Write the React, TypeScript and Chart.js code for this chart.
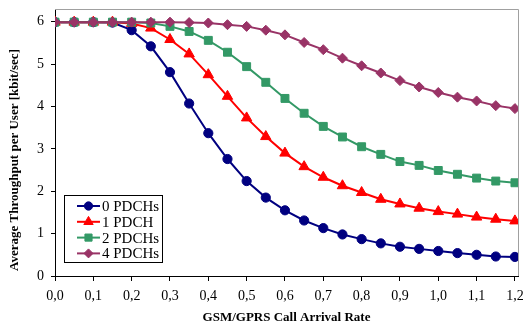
import React, { useEffect, useRef } from "react";
import { Chart, registerables } from "chart.js";
import { drawPoint } from "chart.js/helpers";

Chart.register(...registerables);

const arrivalRate = [0.0, 0.05, 0.1, 0.15, 0.2, 0.25, 0.3, 0.35, 0.4, 0.45, 0.5, 0.55, 0.6, 0.65, 0.7, 0.75, 0.8, 0.85, 0.9, 0.95, 1.0, 1.05, 1.1, 1.15, 1.2];
const pdch0 = [5.99, 5.99, 5.99, 5.98, 5.8, 5.42, 4.81, 4.07, 3.37, 2.76, 2.24, 1.85, 1.55, 1.31, 1.13, 0.98, 0.87, 0.77, 0.69, 0.64, 0.59, 0.54, 0.5, 0.46, 0.45];
const pdch1 = [5.99, 5.99, 5.99, 5.99, 5.96, 5.85, 5.58, 5.24, 4.75, 4.24, 3.73, 3.29, 2.9, 2.58, 2.33, 2.13, 1.97, 1.81, 1.7, 1.6, 1.52, 1.46, 1.39, 1.34, 1.3];
const pdch2 = [5.99, 5.99, 5.99, 5.99, 5.99, 5.97, 5.89, 5.77, 5.56, 5.28, 4.94, 4.57, 4.19, 3.84, 3.53, 3.28, 3.05, 2.87, 2.7, 2.61, 2.49, 2.4, 2.31, 2.24, 2.2];
const pdch4 = [5.99, 5.99, 5.99, 5.99, 5.99, 5.99, 5.99, 5.98, 5.97, 5.93, 5.89, 5.8, 5.69, 5.51, 5.34, 5.14, 4.96, 4.79, 4.61, 4.46, 4.33, 4.22, 4.13, 4.02, 3.95];
const seriesLabels = ["0 PDCHs", "1 PDCH", "2 PDCHs", "4 PDCHs"];
const xTicks = [0, 0.1, 0.2, 0.3, 0.4, 0.5, 0.6, 0.7, 0.8, 0.9, 1.0, 1.1, 1.2];
const yTicks = [0, 1, 2, 3, 4, 5, 6];

const SERIF = "'Liberation Serif', 'Times New Roman', serif";

const frameAndLegend = {
  id: "frameAndLegend",
  afterDatasetsDraw(chart: any) {
    const ctx = chart.ctx;
    const a = chart.chartArea;
    ctx.save();
    // plot area frame (top & right)
    ctx.strokeStyle = "#a0a0a0";
    ctx.lineWidth = 1;
    ctx.beginPath();
    ctx.moveTo(a.left, Math.round(a.top) + 0.5);
    ctx.lineTo(Math.round(a.right) + 0.5, Math.round(a.top) + 0.5);
    ctx.lineTo(Math.round(a.right) + 0.5, a.bottom);
    ctx.stroke();

    // legend
    const bx = 64.5, by = 195.5, bw = 98, bh = 67;
    ctx.fillStyle = "#ffffff";
    ctx.fillRect(bx, by, bw, bh);
    ctx.strokeStyle = "#000000";
    ctx.strokeRect(bx, by, bw, bh);
    chart.data.datasets.forEach((ds: any, i: number) => {
      const y = 206 + i * 15.8;
      ctx.strokeStyle = ds.borderColor;
      ctx.lineWidth = 2;
      ctx.beginPath();
      ctx.moveTo(77, y);
      ctx.lineTo(100, y);
      ctx.stroke();
      ctx.fillStyle = ds.backgroundColor;
      ctx.strokeStyle = ds.borderColor;
      ctx.lineWidth = 1;
      drawPoint(ctx, { pointStyle: ds.pointStyle, radius: ds.pointRadius * 0.9, rotation: 0, borderWidth: 1 }, 88.5, y);
      ctx.fillStyle = "#000000";
      ctx.font = "15px " + SERIF;
      ctx.textAlign = "left";
      ctx.textBaseline = "middle";
      ctx.fillText(ds.label, 102, y + 1);
    });

    // y axis title
    ctx.save();
    ctx.translate(15, 160);
    ctx.rotate(-Math.PI / 2);
    ctx.fillStyle = "#000000";
    ctx.font = "bold 13px " + SERIF;
    ctx.textAlign = "center";
    ctx.textBaseline = "middle";
    ctx.fillText("Average Throughput per User [kbit/sec]", 0, 0);
    ctx.restore();
    ctx.restore();
  },
};

export default function App() {
  const ref = useRef<HTMLCanvasElement>(null);
  useEffect(() => {
    document.body.style.margin = "0";
    const mk = (label: string, data: number[], color: string, style: string, r: number, order: number) => ({
      label,
      data: data.map((v, i) => ({ x: arrivalRate[i], y: v })),
      borderColor: color,
      backgroundColor: color,
      pointStyle: style,
      pointRadius: r,
      pointBorderWidth: 1,
      borderWidth: 2,
      tension: 0,
      order,
    });
    const chart = new Chart(ref.current!, {
      type: "line",
      data: {
        datasets: [
          mk(seriesLabels[0], pdch0, "#000080", "circle", 4.6, 4),
          mk(seriesLabels[1], pdch1, "#ff0000", "triangle", 6, 3),
          mk(seriesLabels[2], pdch2, "#339966", "rect", 5.6, 2),
          mk(seriesLabels[3], pdch4, "#993366", "rectRot", 5, 1),
        ] as any,
      },
      options: {
        animation: false,
        responsive: false,
        maintainAspectRatio: false,
        layout: { padding: { left: 0, top: 9, right: 6, bottom: 0 } },
        plugins: { legend: { display: false }, tooltip: { enabled: false } },
        scales: {
          x: {
            type: "linear",
            min: 0,
            max: 1.208,
            afterBuildTicks: (s: any) => {
              s.ticks = xTicks.map((v) => ({ value: v }));
            },
            afterFit: (s: any) => {
              s.height = 49;
              s.paddingLeft = 0;
              s.paddingRight = 0;
            },
            grid: { drawOnChartArea: false, drawTicks: true, tickLength: 5, color: "#000000" },
            border: { color: "#000000", width: 1 },
            ticks: {
              color: "#000000",
              font: { family: SERIF, size: 14 },
              padding: 7,
              maxRotation: 0,
              autoSkip: false,
              callback: (v: any) => Number(v).toFixed(1).replace(".", ","),
            },
            title: {
              display: true,
              text: "GSM/GPRS Call Arrival Rate",
              color: "#000000",
              font: { family: SERIF, size: 13, weight: "bold" },
              padding: { top: 0, bottom: 0 },
            },
          },
          y: {
            min: 0,
            max: 6.3,
            afterBuildTicks: (s: any) => {
              s.ticks = yTicks.map((v) => ({ value: v }));
            },
            afterFit: (s: any) => {
              s.width = 55;
              s.paddingTop = 0;
              s.paddingBottom = 0;
            },
            grid: { drawOnChartArea: false, drawTicks: true, tickLength: 4, color: "#000000" },
            border: { color: "#000000", width: 1 },
            ticks: {
              color: "#000000",
              font: { family: SERIF, size: 14 },
              padding: 7,
            },
          },
        },
      },
      plugins: [frameAndLegend],
    } as any);
    return () => chart.destroy();
  }, []);
  return (
    <div style={{ width: 525, height: 325 }}>
      <canvas ref={ref} width={525} height={325} style={{ display: "block" }} />
    </div>
  );
}
